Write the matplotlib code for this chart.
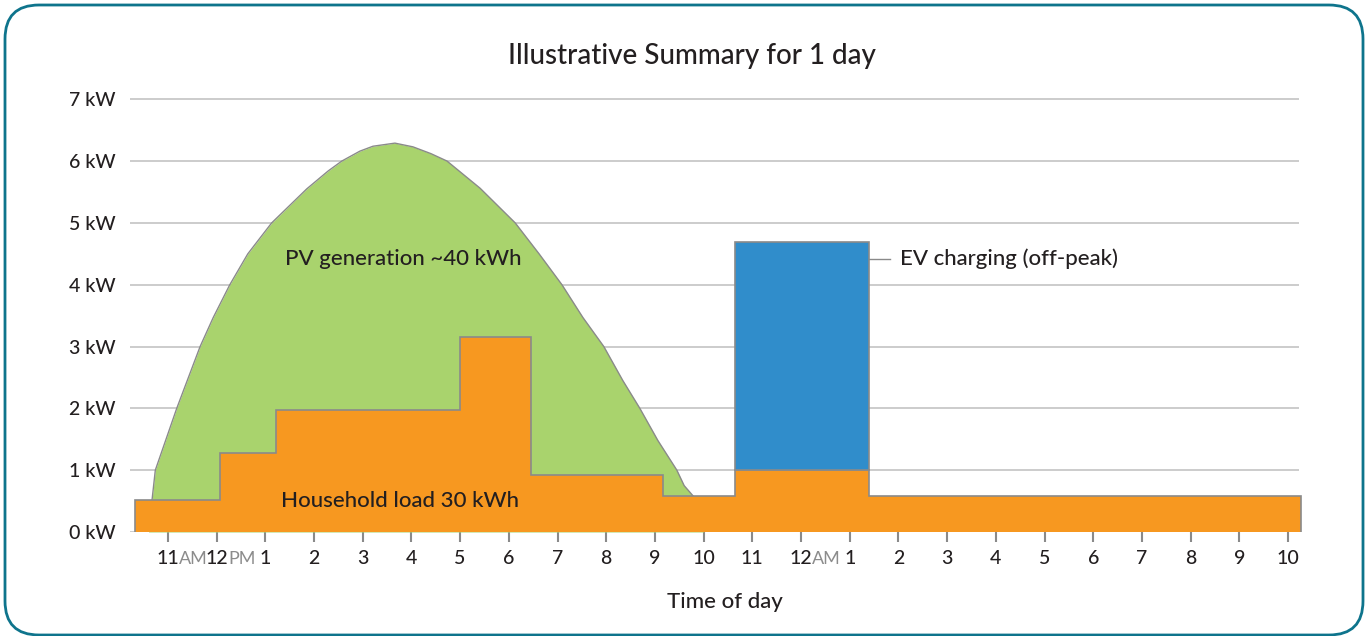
import numpy as np
import matplotlib
matplotlib.use("Agg")
import matplotlib.pyplot as plt
import matplotlib.patches as mpatches
from matplotlib.transforms import IdentityTransform

plt.rcParams['font.family'] = ['Lato', 'DejaVu Sans']
plt.rcParams['font.weight'] = 500

# data (hours of day, 11 = 11AM, 24 = midnight, 34 = 10AM next day)
pv_hours = [10.6, 10.67, 10.74, 10.96, 11.18, 11.66, 11.93, 12.27, 12.64, 13.13, 13.85,
            14.29, 14.57, 14.94, 15.21, 15.66, 16.03, 16.4, 16.73, 17.41, 18.13,
            18.62, 19.09, 19.52, 19.95, 20.34, 20.69, 21.06, 21.45, 21.6, 21.82, 22.0]
pv_kw = [0.0, 0.5, 1.0, 1.5, 2.0, 3.0, 3.47, 4.0, 4.5, 5.0, 5.55,
         5.84, 6.0, 6.16, 6.24, 6.29, 6.23, 6.12, 6.0, 5.56, 5.0,
         4.5, 4.0, 3.47, 3.0, 2.45, 2.0, 1.48, 1.0, 0.75, 0.55, 0.3]

load_edges = [10.32, 12.07, 13.22, 17.0, 18.45, 21.16, 22.64, 25.39, 34.27]
load_kw = [0.52, 1.27, 1.98, 3.15, 0.93, 0.58, 1.0, 0.58]

ev_start = 22.64
ev_end = 25.39
ev_base = 1.0
ev_top = 4.69

tick_hours = list(range(11, 35))
tick_labels = ['11', '12', '1', '2', '3', '4', '5', '6', '7', '8', '9', '10', '11',
               '12', '1', '2', '3', '4', '5', '6', '7', '8', '9', '10']
tick_suffix = {11: 'AM', 12: 'PM', 24: 'AM'}
y_ticks = [0, 1, 2, 3, 4, 5, 6, 7]

green = '#A9D36D'
orange = '#F79820'
blue = '#308DCB'
edge = '#8A8A8A'
dark = '#231F20'

fig = plt.figure(figsize=(13.66, 6.36), dpi=100)
ax = fig.add_axes([130 / 1366, 1 - 532 / 636, 1169 / 1366, 434 / 636])

ax.fill_between(pv_hours, pv_kw, 0, color=green, lw=0, zorder=2)
ax.plot(pv_hours, pv_kw, color=edge, lw=1, zorder=2)

fill = ax.stairs(load_kw, load_edges, baseline=0, fill=True, color=orange, zorder=3)
line = ax.stairs(load_kw, load_edges, baseline=0, fill=False, color=edge, lw=1.2, zorder=3)
fill.set_clip_on(False)
line.set_clip_on(False)

ax.bar(ev_start, ev_top - ev_base, width=ev_end - ev_start, bottom=ev_base,
       align='edge', color=blue, edgecolor=edge, lw=1.2, zorder=4)

ax.set_xlim(10.22, 34.226)
ax.set_ylim(0, 7.02)
for s in ax.spines.values():
    s.set_visible(False)
ax.set_yticks(y_ticks)
ax.set_yticklabels([f'{v} kW' for v in y_ticks], fontsize=14, color=dark)
ax.tick_params(axis='y', length=0, pad=10.5)
ax.yaxis.grid(True, color='#C8C8C8', lw=1.3, zorder=0)
ax.set_axisbelow(True)

ax.set_xticks(tick_hours)
ax.set_xticklabels([])
ax.tick_params(axis='x', length=7, width=1.5, color='#8A8A8A', direction='out')
for h, lab in zip(tick_hours, tick_labels):
    t = ax.annotate(lab, xy=(h, 0), xycoords='data', xytext=(0, -19),
                    textcoords='offset points', ha='center', va='center',
                    fontsize=14, color=dark)
    if h in tick_suffix:
        ax.annotate(tick_suffix[h], xy=(1, 0), xycoords=t, xytext=(0, 0),
                    textcoords='offset points', ha='left', va='bottom',
                    fontsize=13, color='#8C8C8C', fontweight=400)

ax.text(13.4, 4.42, 'PV generation ~40 kWh', fontsize=16, color=dark,
        ha='left', va='center', zorder=5)
ax.text(13.32, 0.5, 'Household load 30 kWh', fontsize=16, color=dark,
        ha='left', va='center', zorder=5)
ax.plot([ev_end, 25.83], [4.42, 4.42], color=edge, lw=1, zorder=5)
ax.text(26.03, 4.42, 'EV charging (off-peak)', fontsize=16, color=dark,
        ha='left', va='center', zorder=5)

fig.text(692 / 1366, 1 - 56 / 636, 'Illustrative Summary for 1 day',
         fontsize=20, color=dark, ha='center', va='center')
fig.text(725 / 1366, 1 - 602 / 636, 'Time of day', fontsize=16, color=dark,
         ha='center', va='center')

border = mpatches.FancyBboxPatch((5, 1), 1358, 630,
                                 boxstyle='round,pad=0,rounding_size=34',
                                 transform=IdentityTransform(), fill=False,
                                 edgecolor='#0E748C', lw=2)
fig.add_artist(border)

fig.savefig('out.png', dpi=100)
